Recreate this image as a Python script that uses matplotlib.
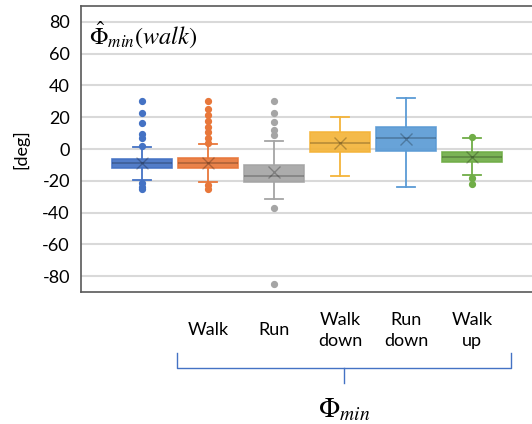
"""Recreate the Phi_min box-and-whisker chart."""
import matplotlib
matplotlib.use("Agg")
import matplotlib.pyplot as plt
from matplotlib.transforms import blended_transform_factory

plt.rcParams["font.family"] = ["Lato", "DejaVu Sans"]
plt.rcParams["mathtext.fontset"] = "stix"

# ---- data (degrees) ----
positions = [1, 2, 3, 4, 5, 6]
labels = ["", "Walk", "Run", "Walk\ndown", "Run\ndown", "Walk\nup"]
colors = ["#4472C4", "#E8773A", "#A5A5A5", "#F4B43A", "#5B9BD5", "#70AD47"]

q1 = [-11.8, -12.0, -20.5, -2.0, -1.4, -8.0]
q3 = [-6.0, -5.8, -9.9, 10.7, 13.9, -2.0]
medians = [-8.6, -8.6, -16.9, 3.9, 6.7, -5.2]
means = [-8.6, -8.6, -14.5, 4.0, 6.0, -5.0]
whislo = [-19.4, -20.5, -31.7, -17.3, -23.7, -16.2]
whishi = [1.4, 2.9, 5.0, 20.1, 32.0, 6.7]
fliers = [
    [30, 22.4, 16.2, 9.4, 6.7, 2.0, -21.5, -23.7, -25.4],
    [30, 25.2, 21.3, 17.7, 14.1, 10.7, 7.1, 3.9, -22.6, -25.4],
    [30, 22.4, 17.1, 11.8, 8.6, -37.0, -85.2],
    [],
    [],
    [7.5, -18.3, -22.2],
]

yticks = [-80, -60, -40, -20, 0, 20, 40, 60, 80]

stats = []
for i in range(len(positions)):
    stats.append({
        "q1": q1[i], "q3": q3[i], "med": medians[i], "mean": means[i],
        "whislo": whislo[i], "whishi": whishi[i], "fliers": fliers[i],
    })

fig = plt.figure(figsize=(5.32, 4.24), dpi=100)
ax = fig.add_axes([81 / 532, 1 - 292 / 424, 1 - 81 / 532, 286 / 424])

for i, (st, c) in enumerate(zip(stats, colors)):
    ax.bxp([st], positions=[positions[i]], widths=0.9, showmeans=True,
           patch_artist=True, manage_ticks=False,
           boxprops=dict(facecolor=c, edgecolor=c, linewidth=1.2, alpha=0.92),
           whiskerprops=dict(color=c, linewidth=1.3),
           capprops=dict(color=c, linewidth=1.3),
           capwidths=0.28,
           medianprops=dict(color="#000000", alpha=0.25, linewidth=1.2),
           meanprops=dict(marker="x", markeredgecolor="#000000", alpha=0.25,
                          markersize=9, markeredgewidth=1.0),
           flierprops=dict(marker="o", markerfacecolor=c, markeredgecolor=c,
                           markersize=4.2))

ax.set_xlim(positions[0] - 0.924, positions[0] + 5.91)
ax.set_ylim(-90, 90)
ax.set_yticks(yticks)
ax.set_yticklabels([str(t) for t in yticks], fontsize=13)
ax.tick_params(axis="y", length=0, pad=8)
ax.set_xticks([])
ax.grid(axis="y", color="#D9D9D9", linewidth=1.5)
ax.set_axisbelow(True)
for s in ["left", "top", "bottom"]:
    ax.spines[s].set_color("#595959")
    ax.spines[s].set_linewidth(1.2)
ax.spines["right"].set_visible(False)
ax.set_ylabel("[deg]", fontsize=13, labelpad=9)

ax.text(0.018, 0.9, r"$\hat{\Phi}_{min}(walk)$", transform=ax.transAxes,
        fontsize=17.5, ha="left", va="center")

# category labels under the axes
tr = blended_transform_factory(ax.transData, ax.transAxes)
for p, lab in zip(positions, labels):
    ax.text(p, -0.134, lab, transform=tr, ha="center", va="center",
            fontsize=13, linespacing=1.35, clip_on=False)

# bracket grouping the categories
x0 = positions[1] - 0.47
x1 = positions[-1] + 0.59
xm = (x0 + x1) / 2
bc = "#4472C4"
ax.plot([x0, x0, x1, x1], [-0.213, -0.266, -0.266, -0.213], transform=tr,
        color=bc, linewidth=1.0, clip_on=False)
ax.plot([xm, xm], [-0.266, -0.318], transform=tr, color=bc, linewidth=1.0,
        clip_on=False)
ax.text(xm, -0.413, r"$\Phi_{min}$", transform=tr, ha="center", va="center",
        fontsize=20, clip_on=False)

fig.savefig("out.png", dpi=100)
